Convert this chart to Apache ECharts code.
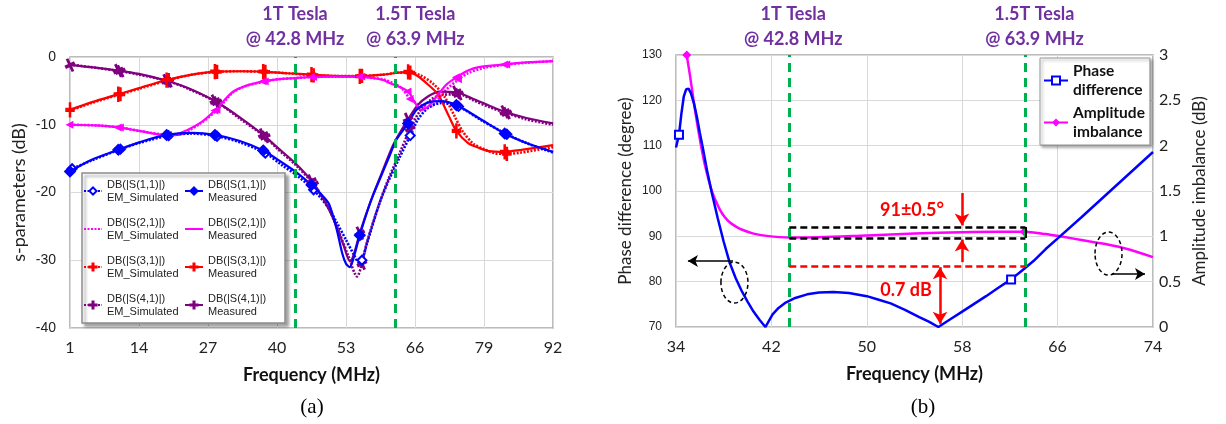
<!DOCTYPE html>
<html><head><meta charset="utf-8">
<script src="https://cdn.jsdelivr.net/npm/echarts@6/dist/echarts.min.js"></script>
<style>html,body{margin:0;padding:0;background:#fff}#c{width:1226px;height:424px}</style>
</head><body><div id="c"></div>
<script>
// ---------- Panel (a): s-parameters (dB) vs frequency (MHz) ----------
const freqTicksA = [1, 14, 27, 40, 53, 66, 79, 92];
const dbTicksA = [-40, -30, -20, -10, 0];
const mkMeas = [1, 10.1, 19.2, 28.3, 37.4, 46.5, 55.6, 64.7, 73.8, 82.9];
const mkSim = [1.4, 10.5, 19.6, 28.7, 37.8, 46.9, 56, 65.1, 74.2, 83.3];
const markerFreqs = [42.8, 63.9];      // MRI frequencies (labels)
const markerPosA = [43.4, 62.3];       // where the dashed lines are drawn in the figure

const s11Meas = [[1,-16.9],[5,-15.2],[10.1,-13.7],[14,-12.6],[19.2,-11.5],[24,-11.2],[28.3,-11.5],[33,-12.4],[37.4,-13.8],[41,-15.6],[43.6,-17.0],[46.5,-18.9],[48.5,-20.4],[49.8,-21.7],[51.2,-25.3],[52.3,-29.0],[53.0,-30.5],[53.7,-31.0],[54.3,-30.0],[55.6,-26.3],[57,-22.8],[58,-20.6],[59.5,-17.8],[61.1,-14.8],[62.5,-12.2],[64.7,-9.8],[66.3,-7.8],[68.5,-6.7],[71,-6.5],[73.8,-7.1],[78,-9.0],[82.9,-11.3],[87,-12.7],[92,-14.0]];
const s11Sim = [[1,-16.6],[1.4,-16.5],[5,-15.3],[10.5,-13.6],[14,-12.7],[19.6,-11.6],[24,-11.3],[28.7,-11.7],[33,-12.6],[37.8,-14.2],[41,-16.0],[43.6,-17.4],[46.9,-19.6],[49.8,-22.4],[51.3,-24.5],[53,-27.0],[54.5,-29.2],[55.5,-30.4],[56,-30.0],[57,-27.4],[59.3,-21.6],[61,-18.3],[63,-15.0],[65.1,-11.6],[66.5,-9.3],[68.5,-7.5],[71,-6.8],[74.2,-7.3],[78,-9.1],[83.3,-11.4],[87,-12.7],[92,-14.1]];
const s21Meas = [[1,-10.0],[6,-10.1],[10.1,-10.4],[14,-10.9],[19.2,-11.5],[21,-11.4],[25.4,-9.8],[28.3,-7.9],[31.6,-5.2],[34,-4.3],[37.4,-3.6],[40,-3.3],[43.6,-3.1],[46.5,-2.95],[51,-2.9],[55.6,-2.9],[58,-3.1],[60,-3.4],[61.1,-3.8],[63,-4.4],[64.7,-5.1],[66.3,-7.1],[67.2,-7.8],[68.5,-7.3],[70.4,-5.5],[72,-4.0],[73.8,-3.0],[76,-2.0],[78,-1.5],[82.9,-1.1],[87,-0.8],[92,-0.6]];
const s21Sim = [[1,-10.0],[6,-10.1],[10.5,-10.4],[14,-10.9],[19.6,-11.5],[21,-11.5],[25.4,-9.9],[28.7,-7.8],[31.6,-5.3],[34,-4.3],[37.8,-3.6],[40,-3.3],[43.6,-3.1],[46.9,-2.95],[51,-2.9],[56,-2.9],[58,-3.1],[60,-3.3],[62,-3.9],[63.5,-4.6],[65.1,-6.2],[67,-7.1],[68.5,-7.4],[70,-6.6],[71.5,-5.1],[74.2,-3.3],[76,-2.4],[79,-1.6],[83.3,-1.1],[87,-0.85],[92,-0.6]];
const s31Meas = [[1,-7.8],[5,-6.7],[10.1,-5.5],[14,-4.6],[19.2,-3.4],[24,-2.6],[28.3,-2.15],[33,-2.1],[37.4,-2.15],[42,-2.4],[46.5,-2.6],[51,-2.8],[55.6,-2.85],[60,-2.6],[63,-2.3],[64.7,-2.2],[66.5,-2.8],[68.5,-4.1],[70.4,-5.6],[72.3,-8.6],[73.8,-10.9],[76,-12.7],[78,-13.4],[80,-13.9],[82.9,-14.0],[86,-13.7],[92,-13.0]];
const s31Sim = [[1,-7.9],[5,-6.8],[10.5,-5.5],[14,-4.7],[19.6,-3.4],[24,-2.6],[28.7,-2.2],[33,-2.1],[37.8,-2.2],[42,-2.4],[46.9,-2.7],[51,-2.8],[56,-2.8],[60,-2.6],[63,-2.3],[65.1,-2.3],[67,-2.7],[69.5,-4.0],[71.5,-5.8],[73.5,-8.8],[75,-11.0],[77,-12.8],[79,-13.6],[81,-14.2],[83.3,-14.3],[86,-14.1],[92,-13.3]];
const s41Meas = [[1,-1.2],[5,-1.5],[10.1,-2.0],[14,-2.5],[19.2,-3.5],[23,-4.5],[28.3,-6.5],[33,-8.9],[37.4,-11.5],[40,-13.3],[43.6,-15.8],[46.5,-18.3],[49,-21.3],[51,-24.6],[52.5,-27.7],[53.8,-30.2],[54.6,-28.8],[55.6,-26.0],[57.5,-21.6],[60,-16.6],[62,-12.8],[64.7,-9.2],[66.5,-7.1],[68.5,-5.8],[70.6,-5.1],[73.8,-5.2],[77,-6.2],[80,-7.2],[82.9,-8.1],[87,-9.0],[92,-9.8]];
const s41Sim = [[1,-1.1],[5,-1.5],[10.5,-2.1],[14,-2.6],[19.6,-3.6],[23,-4.6],[28.7,-6.7],[33,-9.1],[37.8,-11.8],[40,-13.5],[43.6,-16.0],[46.9,-18.8],[49.5,-22.0],[51.5,-25.5],[53.5,-29.5],[55.1,-32.4],[56,-30.5],[57,-27.2],[59.3,-21.6],[61,-18.0],[63,-14.4],[65.1,-10.6],[67,-7.9],[69,-6.3],[71,-5.6],[74.2,-5.5],[77,-6.4],[80,-7.4],[83.3,-8.3],[87,-9.2],[92,-10.0]];

// ---------- Panel (b) ----------
const freqTicksB = [34, 42, 50, 58, 66, 74];
const degTicksB = [70, 80, 90, 100, 110, 120, 130];
const dbTicksB = [0, 0.5, 1, 1.5, 2, 2.5, 3];
const markerPosB = [43.5, 63.3];
const blueB = [[34.0,1.98],[34.25,2.12],[34.45,2.35],[34.65,2.54],[34.85,2.62],[35.05,2.63],[35.25,2.58],[35.5,2.47],[35.75,2.32],[36.0,2.14],[36.3,1.94],[36.6,1.73],[37.0,1.48],[37.5,1.2],[38.0,0.94],[38.5,0.71],[39.0,0.54],[39.5,0.4],[40.0,0.28],[40.5,0.17],[41.0,0.08],[41.5,0.0],[42.1,0.14],[42.6,0.21],[43.2,0.27],[44,0.32],[45,0.36],[46,0.38],[47.2,0.385],[48.5,0.375],[50,0.34],[51,0.3],[52,0.26],[53.2,0.19],[54.4,0.11],[55.2,0.06],[56,0.0],[57,0.085],[58,0.17],[59,0.255],[60,0.34],[61,0.43],[62.1,0.525],[63,0.62],[64,0.73],[65,0.86],[66.2,1.0],[68,1.21],[70,1.45],[72,1.69],[74,1.93]];
const magB = [[34.6,135],[34.9,130],[35.2,125],[35.5,119.5],[35.8,114.5],[36.1,110],[36.4,106],[36.7,102.8],[37.0,100],[37.3,98],[37.7,95.8],[38.1,94.2],[38.5,93.1],[39.0,92.2],[39.5,91.5],[40.5,90.6],[41.6,90.1],[43.5,89.75],[46,89.8],[50,90.2],[54,90.6],[58,90.9],[61,91.0],[63.2,91.0],[65,90.5],[66.2,90.0],[68,89.2],[70,88.3],[72,87.1],[74,85.4]];
const mkBlueB = [34.25, 62.1];
const mkMagB = [34.9, 63.2];
const phaseBand = [89.63, 92.06];   // black dashed box (deg)
const ampLine = 0.67;               // red dashed line (dB)

const PLUS = 'path://M4.3,0H5.7V4.3H10V5.7H5.7V10H4.3V5.7H0V4.3H4.3Z';
const BLUE = '#0000FF', MAG = '#FF00FF', RED = '#FF0000', PUR = '#800080', GREEN = '#00B050', TITLE = '#7030A0';

function withMarkers(arr, mk, symbol, size, rotate) {
  return arr.map(p => mk.indexOf(p[0]) >= 0
    ? { value: p, symbol: symbol, symbolSize: size, symbolRotate: rotate || 0 }
    : { value: p, symbol: 'none' });
}
function lineSeries(name, data, color, sim, symbol, extra) {
  return Object.assign({
    name: name, type: 'line', xAxisIndex: 0, yAxisIndex: 0, data: data,
    smooth: 0.3, symbol: symbol, showSymbol: true, showAllSymbol: true, color: color,
    lineStyle: { color: color, width: sim ? 2.6 : 2.2, type: sim ? [2, 1.5] : 'solid' },
    itemStyle: { color: color, borderColor: color, borderWidth: 1.8 },
    z: sim ? 2 : 3
  }, extra || {});
}
const N = {
  s11s: 'DB(|S(1,1)|)\nEM_Simulated', s11m: 'DB(|S(1,1)|)\nMeasured',
  s21s: 'DB(|S(2,1)|)\nEM_Simulated', s21m: 'DB(|S(2,1)|)\nMeasured',
  s31s: 'DB(|S(3,1)|)\nEM_Simulated', s31m: 'DB(|S(3,1)|)\nMeasured',
  s41s: 'DB(|S(4,1)|)\nEM_Simulated', s41m: 'DB(|S(4,1)|)\nMeasured'
};
const titleLabel = { show: true, position: 'end', color: TITLE, fontFamily: 'Lato', fontWeight: 'bold', fontSize: 18, lineHeight: 25, distance: 5 };

const seriesA = [
  lineSeries(N.s41s, withMarkers(s41Sim, mkSim, PLUS, [9, 11], 25), PUR, true, PLUS),
  lineSeries(N.s41m, withMarkers(s41Meas, mkMeas, PLUS, [9, 12], 25), PUR, false, PLUS),
  lineSeries(N.s31s, withMarkers(s31Sim, mkSim, PLUS, [8, 12]), RED, true, PLUS),
  lineSeries(N.s31m, withMarkers(s31Meas, mkMeas, PLUS, [8, 13]), RED, false, PLUS),
  lineSeries(N.s21s, withMarkers(s21Sim, mkSim, 'triangle', 5, 90), MAG, true, 'none'),
  lineSeries(N.s21m, withMarkers(s21Meas, mkMeas, 'triangle', 5, 90), MAG, false, 'none'),
  lineSeries(N.s11s, withMarkers(s11Sim, mkSim, 'emptyDiamond', 9), BLUE, true, 'emptyDiamond'),
  lineSeries(N.s11m, withMarkers(s11Meas, mkMeas, 'diamond', 10), BLUE, false, 'diamond', {
    markLine: {
      silent: true, symbol: 'none', animation: false,
      lineStyle: { color: GREEN, type: [9, 6], width: 3 },
      label: titleLabel,
      data: [
        { xAxis: markerPosA[0], label: { formatter: '1T Tesla\n@ ' + markerFreqs[0] + ' MHz' } },
        { xAxis: markerPosA[1], label: { formatter: '1.5T Tesla\n@ ' + markerFreqs[1] + ' MHz', offset: [20, 0] } }
      ]
    }
  })
];

function arrowLine(x1, y1, x2, y2, color, width, size, both) {
  return [
    { coord: [x1, y1], symbol: both ? 'arrow' : 'none', symbolSize: size, lineStyle: { color: color, width: width, type: 'solid' } },
    { coord: [x2, y2], symbol: 'arrow', symbolSize: size }
  ];
}

const seriesB = [
  {
    name: 'Amplitude\nimbalance', type: 'line', xAxisIndex: 1, yAxisIndex: 1,
    data: withMarkers(magB, mkMagB, 'diamond', 9), smooth: 0.3, symbol: 'diamond', showSymbol: true,
    color: MAG, lineStyle: { color: MAG, width: 2.5 }, itemStyle: { color: MAG }, z: 2,
    markLine: {
      silent: true, symbol: 'none', animation: false,
      label: { show: false },
      data: [
        { xAxis: markerPosB[0], lineStyle: { color: GREEN, type: [9, 6], width: 3 }, label: Object.assign({}, titleLabel, { formatter: '1T Tesla\n@ ' + markerFreqs[0] + ' MHz', offset: [4, 0], distance: 3 }) },
        { xAxis: markerPosB[1], lineStyle: { color: GREEN, type: [9, 6], width: 3 }, label: Object.assign({}, titleLabel, { formatter: '1.5T Tesla\n@ ' + markerFreqs[1] + ' MHz', offset: [9, 0], distance: 3 }) },
        [{ coord: [markerPosB[0], phaseBand[1]], lineStyle: { color: '#000', type: [7, 4], width: 2.5 } }, { coord: [markerPosB[1], phaseBand[1]] }],
        [{ coord: [markerPosB[0], phaseBand[0]], lineStyle: { color: '#000', type: [7, 4], width: 2.5 } }, { coord: [markerPosB[1], phaseBand[0]] }],
        [{ coord: [markerPosB[1], phaseBand[0]], lineStyle: { color: '#000', type: 'solid', width: 2 } }, { coord: [markerPosB[1], phaseBand[1]] }],
        arrowLine(57.98, 99.55, 57.98, 92.4, RED, 2.5, [11, 12]),
        arrowLine(57.98, 84.3, 57.98, 89.3, RED, 2.5, [11, 12]),
        arrowLine(38.78, 84.55, 35.0, 84.55, '#000', 1.5, [9, 10]),
        arrowLine(70.56, 81.69, 73.33, 81.69, '#000', 1.5, [9, 10])
      ]
    },
    markPoint: {
      silent: true, animation: false, symbol: 'circle', symbolSize: 0,
      label: { show: true, position: 'inside', color: RED, fontFamily: 'Lato', fontWeight: 'bold', fontSize: 18 },
      data: [
        { coord: [53.79, 95.8], label: { formatter: '91±0.5°' } },
        { coord: [53.29, 78.16], label: { formatter: '0.7 dB' } }
      ]
    }
  },
  {
    name: 'Phase\ndifference', type: 'line', xAxisIndex: 1, yAxisIndex: 2,
    data: withMarkers(blueB, mkBlueB, 'emptyRect', 8), smooth: false, symbol: 'emptyRect', showSymbol: true,
    color: BLUE, lineStyle: { color: BLUE, width: 2.5 }, itemStyle: { color: BLUE, borderColor: BLUE, borderWidth: 1.8 }, z: 3,
    markLine: {
      silent: true, symbol: 'none', animation: false, label: { show: false },
      data: [
        [{ coord: [markerPosB[0], ampLine], lineStyle: { color: RED, type: [7, 4], width: 2.5 } }, { coord: [markerPosB[1], ampLine] }],
        arrowLine(56.14, 0.66, 56.14, 0.035, RED, 2.5, [11, 12], true)
      ]
    }
  }
];

const gridLine = { show: true, lineStyle: { color: '#d9d9d9', width: 1 } };
const tickFont = { fontFamily: 'Liberation Sans', color: '#222' };
const legendTextA = { fontFamily: 'Liberation Sans', fontSize: 11, lineHeight: 13, color: '#222' };
const hideSym = { opacity: 0 };
const option = {
  animation: false,
  backgroundColor: '#fff',
  grid: [
    { left: 70, top: 57, width: 483, height: 271, show: true, borderColor: '#a6a6a6', borderWidth: 1.5, backgroundColor: 'transparent' },
    { left: 676, top: 55, width: 477, height: 272, show: true, borderColor: '#a6a6a6', borderWidth: 1.5, backgroundColor: 'transparent' }
  ],
  xAxis: [
    { gridIndex: 0, type: 'value', min: freqTicksA[0], max: freqTicksA[freqTicksA.length - 1], interval: freqTicksA[1] - freqTicksA[0],
      axisLine: { show: false }, axisTick: { show: false }, splitLine: gridLine,
      axisLabel: Object.assign({ fontSize: 16, margin: 12 }, tickFont, { fontFamily: 'Lato' }),
      name: 'Frequency (MHz)', nameLocation: 'middle', nameGap: 38,
      nameTextStyle: { fontFamily: 'Lato', fontWeight: 'bold', fontSize: 18, color: '#111' } },
    { gridIndex: 1, type: 'value', min: freqTicksB[0], max: freqTicksB[freqTicksB.length - 1], interval: freqTicksB[1] - freqTicksB[0],
      axisLine: { show: false }, axisTick: { show: false }, splitLine: gridLine,
      axisLabel: Object.assign({ fontSize: 16, margin: 12 }, tickFont, { fontFamily: 'Lato' }),
      name: 'Frequency (MHz)', nameLocation: 'middle', nameGap: 38,
      nameTextStyle: { fontFamily: 'Lato', fontWeight: 'bold', fontSize: 18, color: '#111' } }
  ],
  yAxis: [
    { gridIndex: 0, type: 'value', min: dbTicksA[0], max: dbTicksA[dbTicksA.length - 1], interval: 10,
      axisLine: { show: false }, axisTick: { show: false }, splitLine: gridLine,
      axisLabel: Object.assign({ fontSize: 14, margin: 14 }, tickFont),
      name: 's-parameters (dB)', nameLocation: 'middle', nameGap: 42, nameRotate: 90,
      nameTextStyle: { fontFamily: 'Lato', fontSize: 18, color: '#222' } },
    { gridIndex: 1, type: 'value', min: degTicksB[0], max: degTicksB[degTicksB.length - 1], interval: 10,
      axisLine: { show: false }, axisTick: { show: false }, splitLine: gridLine,
      axisLabel: Object.assign({ fontSize: 12, margin: 14 }, tickFont),
      name: 'Phase difference (degree)', nameLocation: 'middle', nameGap: 42, nameRotate: 90,
      nameTextStyle: { fontFamily: 'Lato', fontSize: 17, color: '#222' } },
    { gridIndex: 1, type: 'value', position: 'right', min: dbTicksB[0], max: dbTicksB[dbTicksB.length - 1], interval: 0.5,
      axisLine: { show: false }, axisTick: { show: false }, splitLine: { show: false },
      axisLabel: Object.assign({ fontSize: 16, margin: 6 }, tickFont, { fontFamily: 'Lato' }),
      name: 'Amplitude imbalance (dB)', nameLocation: 'middle', nameGap: 38, nameRotate: 90,
      nameTextStyle: { fontFamily: 'Lato', fontSize: 17, color: '#222' } }
  ],
  legend: [
    { left: 83, top: 178, orient: 'vertical', itemGap: 12, itemWidth: 18, itemHeight: 9, padding: 0, selectedMode: false, z: 6,
      textStyle: legendTextA,
      data: [N.s11s, { name: N.s21s, itemStyle: hideSym }, N.s31s, N.s41s] },
    { left: 184, top: 178, orient: 'vertical', itemGap: 12, itemWidth: 18, itemHeight: 9, padding: 0, selectedMode: false, z: 6,
      textStyle: legendTextA,
      data: [N.s11m, { name: N.s21m, itemStyle: hideSym }, N.s31m, N.s41m] },
    { left: 1040, top: 58, orient: 'vertical', itemGap: 3, itemWidth: 24, itemHeight: 10, padding: [3, 5, 3, 3], selectedMode: false, z: 6,
      backgroundColor: '#fff', borderColor: '#999', borderWidth: 1,
      shadowBlur: 3, shadowOffsetX: 2, shadowOffsetY: 2, shadowColor: 'rgba(0,0,0,0.35)',
      textStyle: { fontFamily: 'Lato', fontWeight: 'bold', fontSize: 15.5, lineHeight: 19.5, color: '#111' },
      data: ['Phase\ndifference', 'Amplitude\nimbalance'] }
  ],
  series: seriesA.concat(seriesB)
};

const chart = echarts.init(document.getElementById('c'), null, { renderer: 'canvas' });
chart.setOption(option);

// annotation graphics anchored to data coordinates
const magIdx = seriesA.length;
const e1 = chart.convertToPixel({ seriesIndex: magIdx }, [38.9, 79.8]);
const e2 = chart.convertToPixel({ seriesIndex: magIdx }, [70.27, 86.2]);
const graphics = [
  { type: 'rect', z: 5, shape: { x: 82, y: 173, width: 203, height: 150 },
    style: { fill: '#fff', stroke: '#8c8c8c', lineWidth: 1.5, shadowBlur: 3, shadowOffsetX: 3, shadowOffsetY: 3, shadowColor: 'rgba(0,0,0,0.35)' } },
  { type: 'ellipse', z: 10, shape: { cx: e1[0], cy: e1[1], rx: 13.5, ry: 20.5 }, style: { fill: 'none', stroke: '#000', lineWidth: 1.5, lineDash: [4, 3] } },
  { type: 'ellipse', z: 10, shape: { cx: e2[0], cy: e2[1], rx: 13.5, ry: 21.5 }, style: { fill: 'none', stroke: '#000', lineWidth: 1.5, lineDash: [4, 3] } },
  { type: 'text', z: 10, x: 312, y: 407, style: { text: '(a)', font: '21px "Liberation Serif"', fill: '#000', align: 'center', verticalAlign: 'middle' } },
  { type: 'text', z: 10, x: 923, y: 407, style: { text: '(b)', font: '21px "Liberation Serif"', fill: '#000', align: 'center', verticalAlign: 'middle' } }
];
chart.setOption({ graphic: graphics });
</script></body></html>
